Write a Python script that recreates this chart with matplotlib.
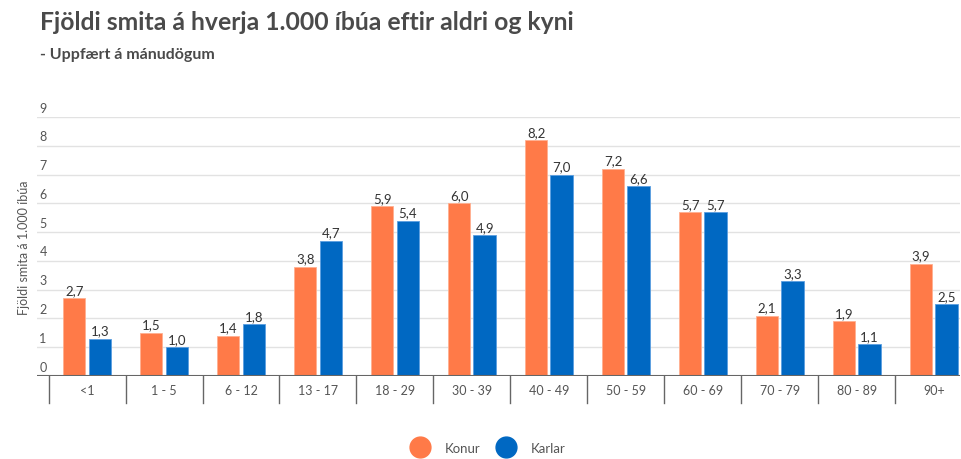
import numpy as np
import matplotlib.pyplot as plt
from matplotlib.lines import Line2D

plt.rcParams['font.family'] = ['Lato', 'DejaVu Sans']

# Data
categories = ['<1', '1 - 5', '6 - 12', '13 - 17', '18 - 29', '30 - 39',
              '40 - 49', '50 - 59', '60 - 69', '70 - 79', '80 - 89', '90+']
konur = [2.7, 1.5, 1.4, 3.8, 5.9, 6.0, 8.2, 7.2, 5.7, 2.1, 1.9, 3.9]
karlar = [1.3, 1.0, 1.8, 4.7, 5.4, 4.9, 7.0, 6.6, 5.7, 3.3, 1.1, 2.5]

c_konur = '#ff7a48'
c_karlar = '#0068c2'
grey = '#555555'

fig = plt.figure(figsize=(9.61, 4.6), dpi=100)
ax = fig.add_axes([37 / 961, 83 / 460, 923 / 961, (377 - 118) / 460])

x = np.arange(len(categories))
w = 0.29
b1 = ax.bar(x - 0.165, konur, w, color=c_konur, edgecolor='#ffb090', linewidth=0.6, zorder=3)
b2 = ax.bar(x + 0.165, karlar, w, color=c_karlar, edgecolor='#5a9ee0', linewidth=0.6, zorder=3)

for bars, vals in ((b1, konur), (b2, karlar)):
    for r, v in zip(bars, vals):
        ax.text(r.get_x() + r.get_width() / 2, v + 0.08, f'{v:.1f}'.replace('.', ','),
                ha='center', va='bottom', fontsize=9.5, color='#333333')

ax.set_xlim(-0.65, 11.34)
ax.set_ylim(0, 9)
ax.set_yticks(range(10))
ax.set_yticklabels([])
for v in range(10):
    ax.axhline(v, color='#e2e2e2', lw=1, zorder=1)
    ax.text(-0.62, v + 0.12, str(v), ha='left', va='bottom', fontsize=9, color=grey)
ax.tick_params(left=False, bottom=False, labelbottom=False)
for s in ax.spines.values():
    s.set_visible(False)
ax.axhline(0, color='#666666', lw=1.5, zorder=4)

# category separators below axis and labels
for b in np.arange(-0.5, len(categories) - 0.5, 1.0):
    ax.plot([b, b], [0, -0.95], color='#666666', lw=1, clip_on=False)
for i, c in enumerate(categories):
    ax.text(i, -0.5, c, ha='center', va='center', fontsize=9, color=grey)

ax.set_ylabel('Fjöldi smita á 1.000 íbúa', fontsize=9, color=grey, labelpad=-2)

fig.text(40 / 961, 1 - 22 / 460, 'Fjöldi smita á hverja 1.000 íbúa eftir aldri og kyni',
         fontsize=17.8, fontweight='bold', color='#4a4a4a', va='center')
fig.text(40 / 961, 1 - 55 / 460, '- Uppfært á mánudögum',
         fontsize=11.5, fontweight='bold', color='#4a4a4a', va='center')

handles = [Line2D([], [], marker='o', ls='', ms=15, color=c_konur),
           Line2D([], [], marker='o', ls='', ms=15, color=c_karlar)]
fig.legend(handles, ['Konur', 'Karlar'], loc='center', bbox_to_anchor=(486 / 961, 1 - 449 / 460),
           ncol=2, frameon=False, fontsize=9.5, labelcolor=grey, handletextpad=0.9,
           columnspacing=0.9)

fig.savefig('out.png', dpi=100)
